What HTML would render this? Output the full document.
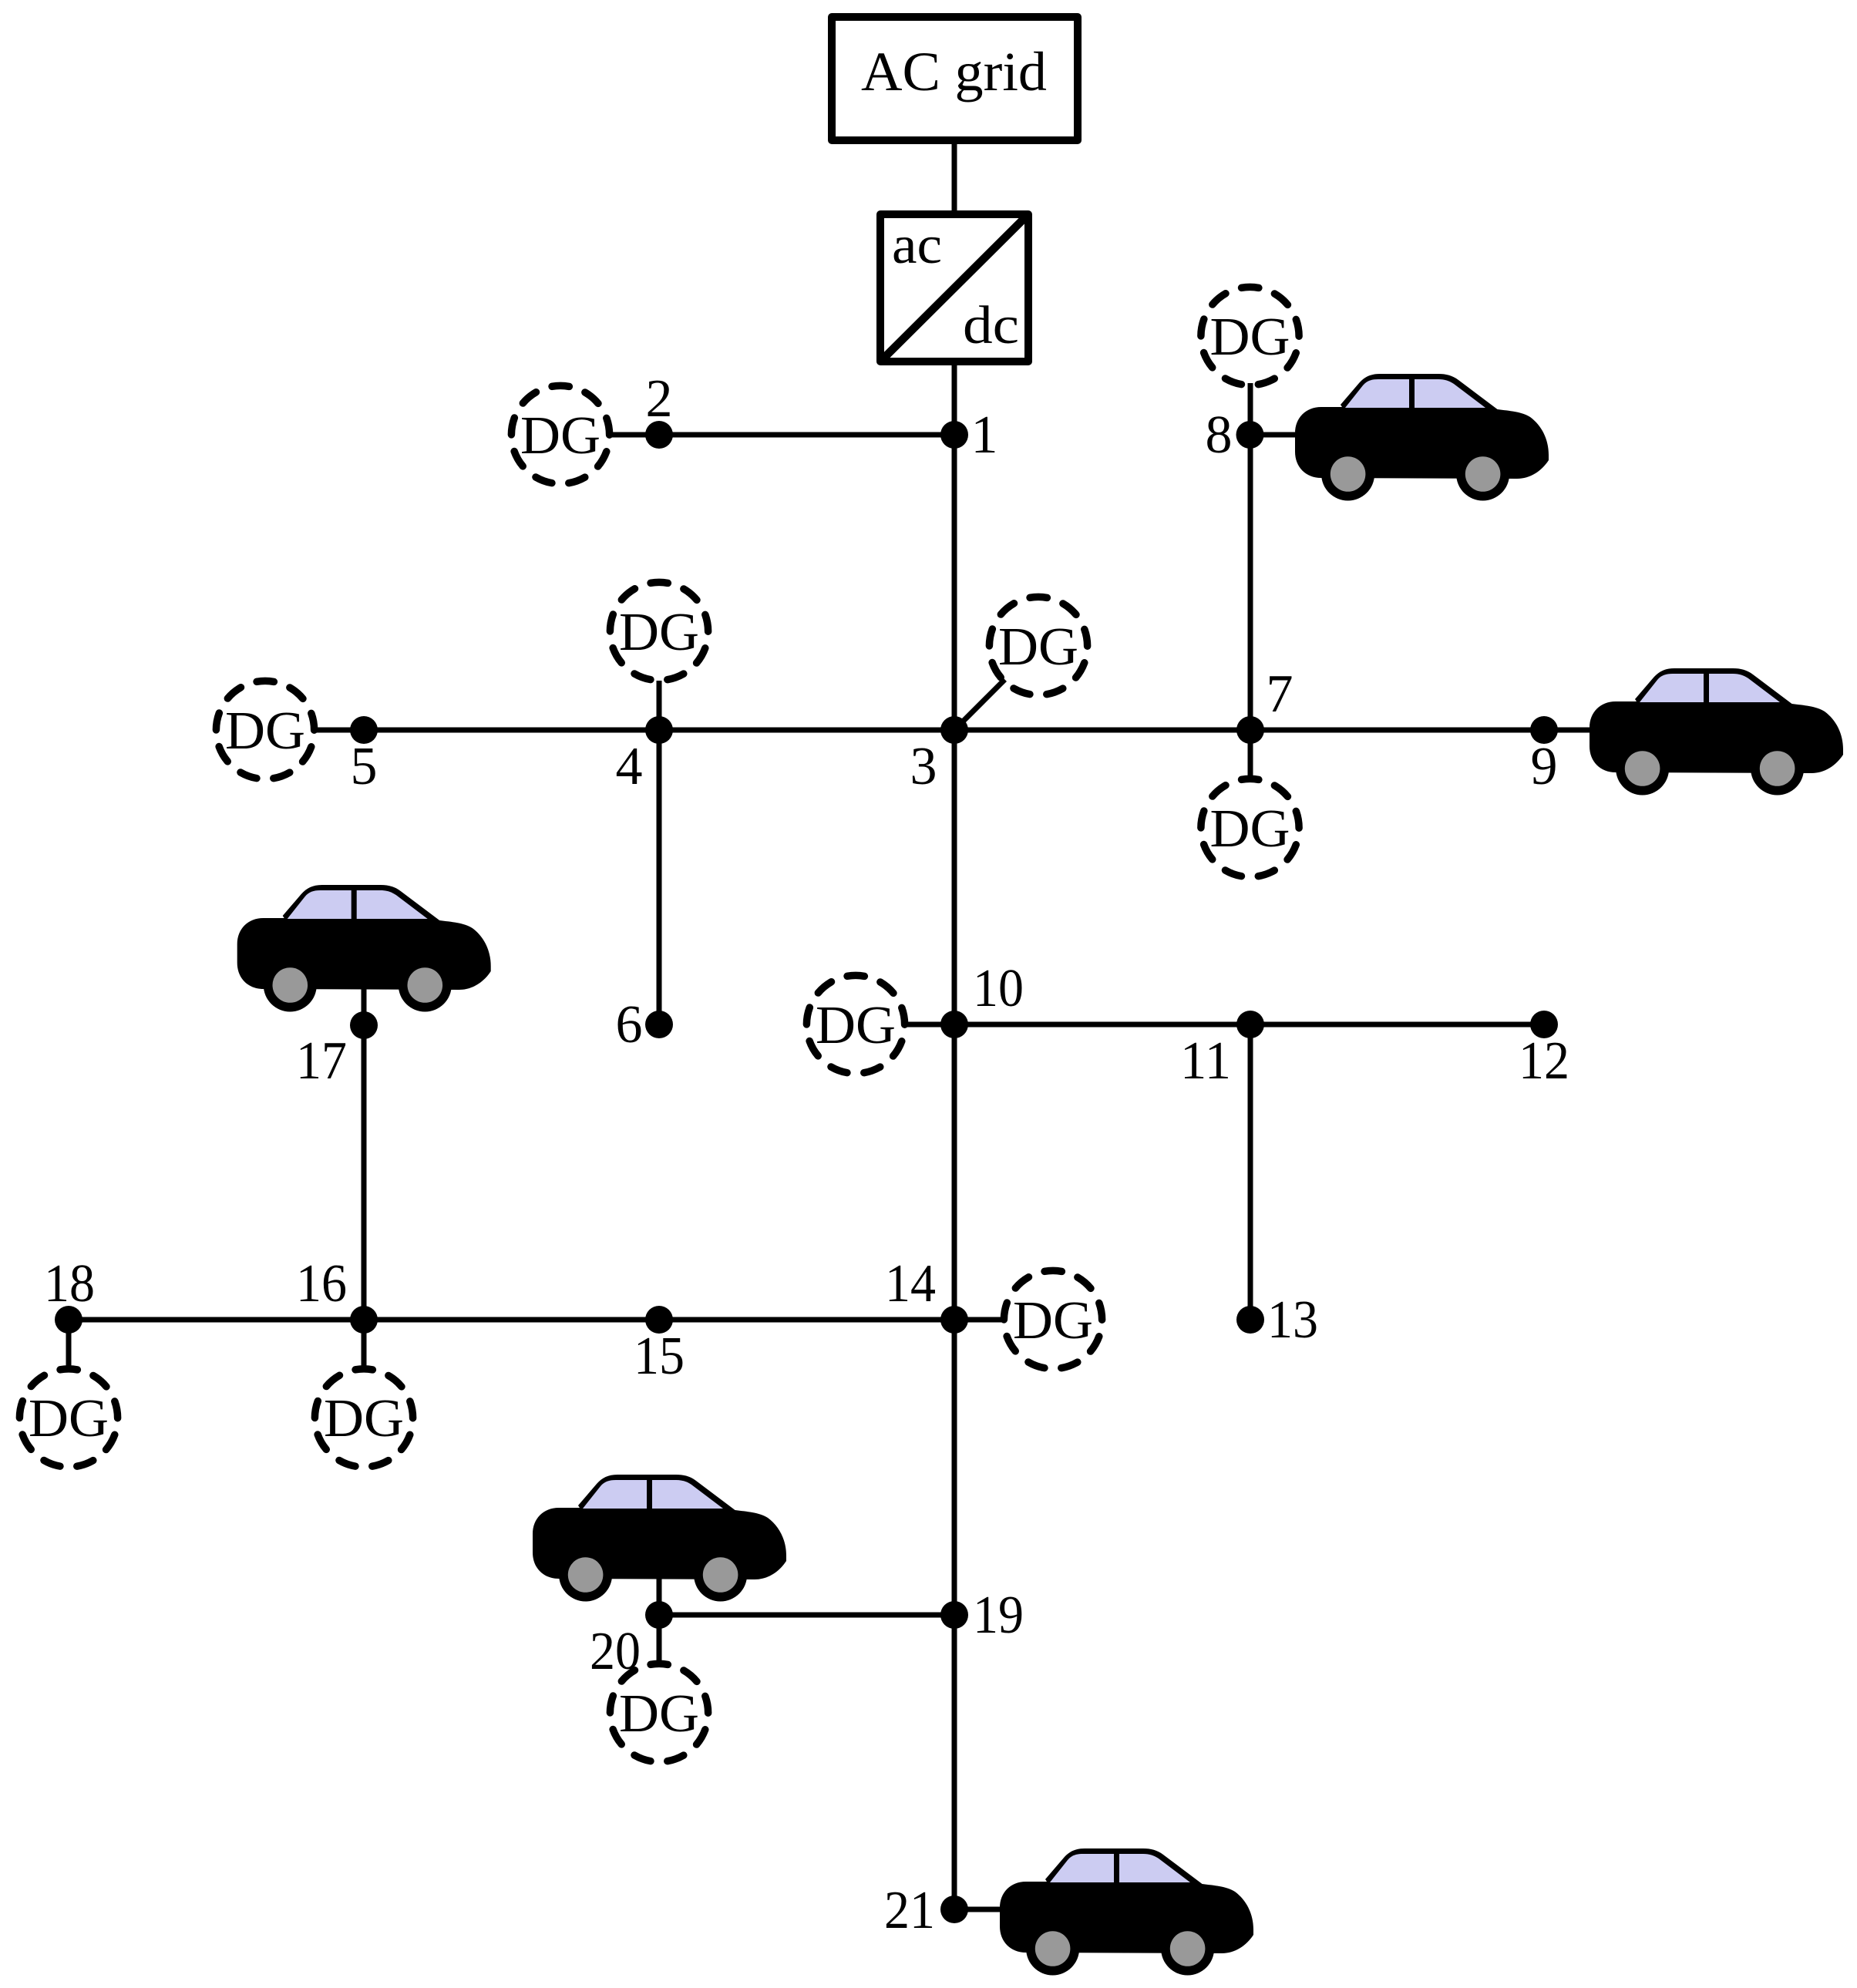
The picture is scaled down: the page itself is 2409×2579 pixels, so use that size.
<!DOCTYPE html>
<html lang="en">
<head>
<meta charset="utf-8">
<title>AC grid feeder diagram</title>
<style>
html,body{margin:0;padding:0;background:#fff;}
svg{display:block;}
text{font-family:"Liberation Serif",serif;font-size:70px;fill:#000;}
.m{text-anchor:middle;}
.dg{fill:none;stroke:#000;stroke-width:9.5;stroke-linecap:round;stroke-dasharray:22.4 22;stroke-dashoffset:22.2;}
.l{stroke:#000;stroke-width:7;fill:none;}
.n{fill:#000;}
</style>
</head>
<body>
<svg xmlns="http://www.w3.org/2000/svg" width="2409" height="2579" viewBox="0 0 2409 2579">
<rect width="2409" height="2579" fill="#fff"/>
<defs>
<g id="car">
<path fill="#000" d="M1680 562 C1680 542 1694 528 1714 528 L1741 528 L1739 525 L1763 497 C1770 489 1778 485 1790 485 L1866 485 C1876 485 1884 487 1892 493 L1942.5 531 C1958 533 1974 534 1985 541 C2000 552 2009 570 2009 590 L2009 597 C2000 611 1985 621 1968 621 L1714 620 C1694 620 1680 606 1680 586 Z"/>
<circle cx="1748.6" cy="615" r="34.5" fill="#000"/>
<circle cx="1923.6" cy="615" r="34.5" fill="#000"/>
<circle cx="1748.6" cy="615" r="22.8" fill="#999"/>
<circle cx="1923.6" cy="615" r="22.8" fill="#999"/>
<path fill="#ccccf2" d="M1745 529 L1768 500 C1773 494 1779 492 1788 492 L1866 492 C1874 492 1880 494 1886 498 L1927 529 Z"/>
<rect x="1828" y="488" width="7" height="41" fill="#000"/>
</g>
</defs>

<!-- lines -->
<g class="l">
<line x1="1238" y1="180" x2="1238" y2="2477"/>
<line x1="791" y1="564" x2="1238" y2="564"/>
<line x1="408" y1="947" x2="2062" y2="947"/>
<line x1="855" y1="883" x2="855" y2="1329"/>
<line x1="1622" y1="497" x2="1622" y2="1010"/>
<line x1="1622" y1="564" x2="1680" y2="564"/>
<line x1="1174" y1="1329" x2="2003" y2="1329"/>
<line x1="1622" y1="1329" x2="1622" y2="1712"/>
<line x1="472" y1="1270" x2="472" y2="1775"/>
<line x1="89" y1="1712" x2="1302" y2="1712"/>
<line x1="89" y1="1712" x2="89" y2="1775"/>
<line x1="855" y1="2095" x2="1238" y2="2095"/>
<line x1="855" y1="2040" x2="855" y2="2158"/>
<line x1="1238" y1="2477" x2="1300" y2="2477"/>
<line x1="1238" y1="947" x2="1303.5" y2="881.5"/>
</g>

<!-- AC grid box and converter -->
<rect x="1079" y="22" width="319" height="160" fill="#fff" stroke="#000" stroke-width="10" stroke-linejoin="round"/>
<rect x="1142" y="278" width="192" height="191" fill="#fff" stroke="#000" stroke-width="10" stroke-linejoin="round"/>
<line x1="1142" y1="469" x2="1334" y2="278" stroke="#000" stroke-width="10.5"/>
<text x="1117" y="117" style="font-size:72px" textLength="241" lengthAdjust="spacingAndGlyphs">AC grid</text>
<text x="1157" y="341" textLength="65" lengthAdjust="spacingAndGlyphs">ac</text>
<text x="1249" y="445" textLength="73" lengthAdjust="spacingAndGlyphs">dc</text>

<!-- DG circles -->
<g>
<circle class="dg" cx="727" cy="564" r="63.6"/><text class="m" x="727" y="588" textLength="104" lengthAdjust="spacingAndGlyphs">DG</text>
<circle class="dg" cx="855" cy="819" r="63.6"/><text class="m" x="855" y="843" textLength="104" lengthAdjust="spacingAndGlyphs">DG</text>
<circle class="dg" cx="1347" cy="838" r="63.6"/><text class="m" x="1347" y="862" textLength="104" lengthAdjust="spacingAndGlyphs">DG</text>
<circle class="dg" cx="344" cy="947" r="63.6"/><text class="m" x="344" y="971" textLength="104" lengthAdjust="spacingAndGlyphs">DG</text>
<circle class="dg" cx="1621.5" cy="436" r="63.6"/><text class="m" x="1621.5" y="460" textLength="104" lengthAdjust="spacingAndGlyphs">DG</text>
<circle class="dg" cx="1621.5" cy="1074" r="63.6"/><text class="m" x="1621.5" y="1098" textLength="104" lengthAdjust="spacingAndGlyphs">DG</text>
<circle class="dg" cx="1110" cy="1329" r="63.6"/><text class="m" x="1110" y="1353" textLength="104" lengthAdjust="spacingAndGlyphs">DG</text>
<circle class="dg" cx="1366" cy="1712" r="63.6"/><text class="m" x="1366" y="1736" textLength="104" lengthAdjust="spacingAndGlyphs">DG</text>
<circle class="dg" cx="89" cy="1839.5" r="63.6"/><text class="m" x="89" y="1863" textLength="104" lengthAdjust="spacingAndGlyphs">DG</text>
<circle class="dg" cx="472" cy="1839.5" r="63.6"/><text class="m" x="472" y="1863" textLength="104" lengthAdjust="spacingAndGlyphs">DG</text>
<circle class="dg" cx="855" cy="2222" r="63.6"/><text class="m" x="855" y="2246" textLength="104" lengthAdjust="spacingAndGlyphs">DG</text>
</g>

<!-- cars -->
<use href="#car"/>
<use href="#car" transform="translate(382,382)"/>
<use href="#car" transform="translate(-1372.3,663)"/>
<use href="#car" transform="translate(-989,1428)"/>
<use href="#car" transform="translate(-383,1913)"/>

<!-- nodes -->
<g class="n">
<circle cx="1238" cy="564" r="18"/>
<circle cx="855" cy="564" r="18"/>
<circle cx="1238" cy="947" r="18"/>
<circle cx="855" cy="947" r="18"/>
<circle cx="472" cy="947" r="18"/>
<circle cx="855" cy="1329" r="18"/>
<circle cx="1622" cy="947" r="18"/>
<circle cx="1621.5" cy="564" r="18"/>
<circle cx="2003" cy="947" r="18"/>
<circle cx="1238" cy="1329" r="18"/>
<circle cx="1622" cy="1329" r="18"/>
<circle cx="2003" cy="1329" r="18"/>
<circle cx="1622" cy="1712" r="18"/>
<circle cx="1238" cy="1712" r="18"/>
<circle cx="855" cy="1712" r="18"/>
<circle cx="472" cy="1712" r="18"/>
<circle cx="472" cy="1330" r="18"/>
<circle cx="89" cy="1712" r="18"/>
<circle cx="1238" cy="2095" r="18"/>
<circle cx="855" cy="2095" r="18"/>
<circle cx="1238" cy="2477" r="18"/>
</g>

<!-- labels -->
<g>
<text class="m" x="1277" y="587">1</text>
<text class="m" x="855" y="540">2</text>
<text class="m" x="1198" y="1017">3</text>
<text class="m" x="816" y="1017">4</text>
<text class="m" x="472" y="1017">5</text>
<text class="m" x="816" y="1352">6</text>
<text class="m" x="1660" y="923">7</text>
<text class="m" x="1581" y="587">8</text>
<text class="m" x="2003" y="1017">9</text>
<text class="m" x="1295" y="1305" textLength="66" lengthAdjust="spacingAndGlyphs">10</text>
<text class="m" x="1564" y="1399" textLength="66" lengthAdjust="spacingAndGlyphs">11</text>
<text class="m" x="2003" y="1399" textLength="66" lengthAdjust="spacingAndGlyphs">12</text>
<text class="m" x="1677" y="1735" textLength="66" lengthAdjust="spacingAndGlyphs">13</text>
<text class="m" x="1181" y="1688" textLength="66" lengthAdjust="spacingAndGlyphs">14</text>
<text class="m" x="855" y="1782" textLength="66" lengthAdjust="spacingAndGlyphs">15</text>
<text class="m" x="417" y="1688" textLength="66" lengthAdjust="spacingAndGlyphs">16</text>
<text class="m" x="417" y="1399" textLength="66" lengthAdjust="spacingAndGlyphs">17</text>
<text class="m" x="90" y="1688" textLength="66" lengthAdjust="spacingAndGlyphs">18</text>
<text class="m" x="1295" y="2118" textLength="66" lengthAdjust="spacingAndGlyphs">19</text>
<text class="m" x="798" y="2165" textLength="66" lengthAdjust="spacingAndGlyphs">20</text>
<text class="m" x="1180" y="2501" textLength="66" lengthAdjust="spacingAndGlyphs">21</text>
</g>
</svg>
</body>
</html>
